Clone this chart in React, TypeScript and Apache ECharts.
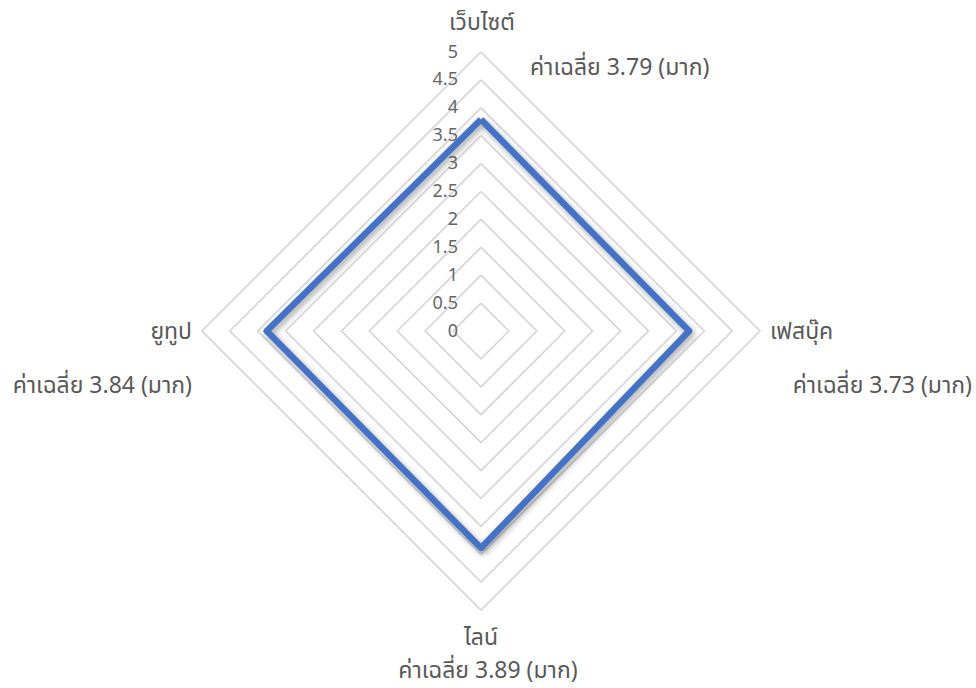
import React, { useEffect, useRef } from "react";
import * as echarts from "echarts";

const indicators = ["เว็บไซต์", "ยูทูป", "ไลน์", "เฟสบุ๊ค"];
const values = [3.79, 3.84, 3.89, 3.73];
const levels = ["มาก", "มาก", "มาก", "มาก"];
const avgPrefix = "ค่าเฉลี่ย";
const maxValue = 5;
const tickStep = 0.5;

const FONT = "Tahoma, 'Noto Sans Thai', 'Noto Sans', 'DejaVu Sans', sans-serif";
const TEXT_COLOR = "#595959";

export default function App() {
  const ref = useRef<HTMLDivElement>(null);
  useEffect(() => {
    if (!ref.current) return;
    const chart = echarts.init(ref.current, null, { renderer: "svg" });
    const cx = 481;
    const cy = 331;
    const r = 279;
    const label = (i: number) => `${avgPrefix} ${values[i].toFixed(2)} (${levels[i]})`;
    const namePos = [
      { x: 482, y: 23, align: "center" },
      { x: 192, y: 332, align: "right" },
      { x: 481, y: 638, align: "center" },
      { x: 770, y: 332, align: "left" },
    ];
    const valuePos = [
      { x: 530, y: 68, align: "left" },
      { x: 192, y: 386, align: "right" },
      { x: 488, y: 671, align: "center" },
      { x: 972, y: 386, align: "right" },
    ];
    const textEl = (text: string, p: any, size: number) => ({
      type: "text",
      x: p.x,
      y: p.y,
      style: {
        text,
        fill: TEXT_COLOR,
        fontSize: size,
        fontFamily: FONT,
        textAlign: p.align,
        textVerticalAlign: "middle",
      },
    });
    chart.setOption({
      animation: false,
      backgroundColor: "#ffffff",
      textStyle: { fontFamily: FONT },
      radar: {
        center: [cx, cy],
        radius: r,
        shape: "polygon",
        splitNumber: 10,
        startAngle: 90,
        indicator: indicators.map((n) => ({ name: n, min: 0, max: maxValue })),
        axisName: { show: false },
        axisLine: { show: false },
        axisTick: { show: false },
        axisLabel: { show: false },
        splitArea: { show: false },
        splitLine: { lineStyle: { color: "#d6d6d6", width: 1.7 } },
      },
      grid: { left: cx, top: cy - r, width: 1, height: r, containLabel: false },
      xAxis: { type: "value", show: false },
      yAxis: {
        type: "value",
        min: 0,
        max: maxValue,
        interval: tickStep,
        axisLine: { show: false },
        axisTick: { show: false },
        splitLine: { show: false },
        axisLabel: { color: "#666666", fontSize: 18, margin: 23, fontFamily: FONT },
      },
      graphic: [
        ...namePos.map((p, i) => textEl(indicators[i], p, 23)),
        ...valuePos.map((p, i) => textEl(label(i), p, 23)),
      ],
      series: [
        {
          type: "radar",
          symbol: "none",
          data: [{ value: values }],
          lineStyle: {
            color: "#4472C4",
            width: 6.5,
            shadowColor: "rgba(0,0,0,0.35)",
            shadowBlur: 6,
            shadowOffsetX: 2,
            shadowOffsetY: 3,
          },
          areaStyle: { opacity: 0 },
        },
      ],
    });
    return () => chart.dispose();
  }, []);
  return (
    <div
      ref={ref}
      style={{ position: "fixed", left: 0, top: 0, width: 976, height: 688 }}
    />
  );
}
